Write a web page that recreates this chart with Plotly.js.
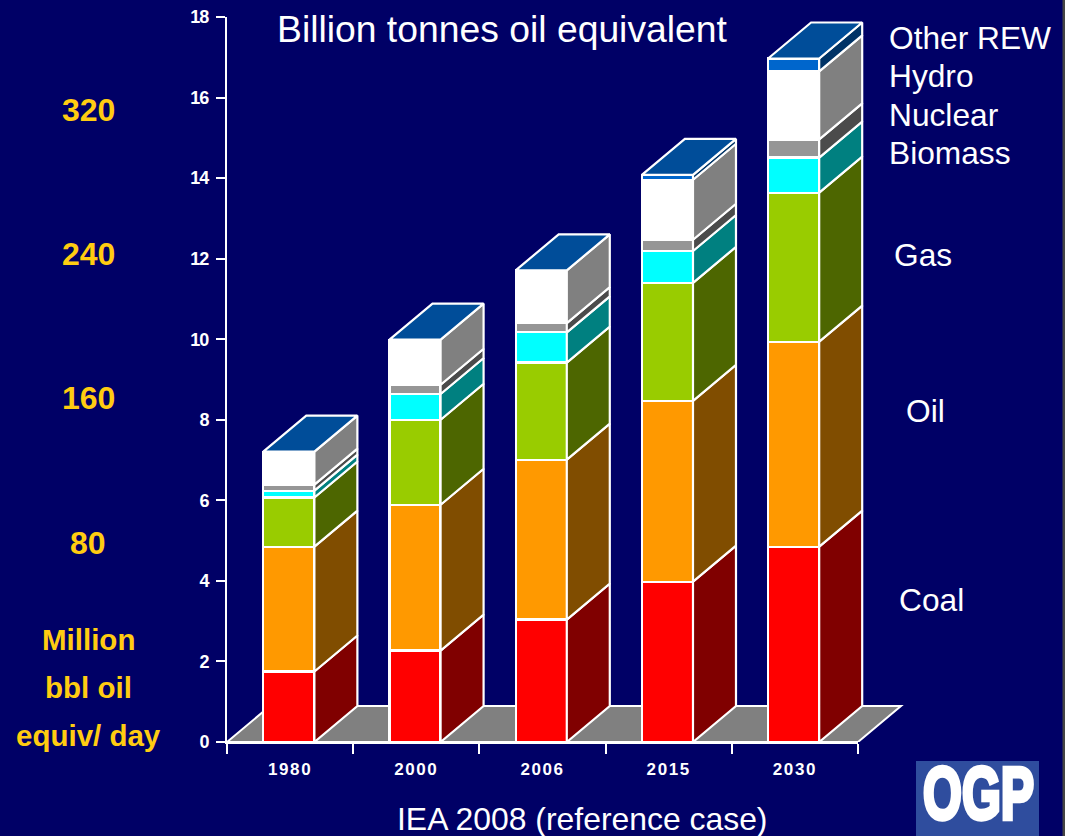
<!DOCTYPE html>
<html>
<head>
<meta charset="utf-8">
<script src="https://cdn.plot.ly/plotly-3.0.1.min.js"></script>
<style>
  html, body { margin: 0; padding: 0; background: #ffffff; overflow: hidden; }
  #chart { width: 1070px; height: 836px; }
  .xtick text { letter-spacing: 1.6px; }
  .ytick text { letter-spacing: -1px; }
  .annotation[data-index="0"] text {
    stroke: #ffffff; stroke-width: 3px;
    transform-box: fill-box; transform-origin: center; transform: scaleY(1.5);
  }
</style>
</head>
<body>
<div id="chart"></div>
<script>
// World primary energy demand by source, billion tonnes oil equivalent
const years   = ['1980', '2000', '2006', '2015', '2030'];
const coal    = [1.75, 2.27, 3.04, 3.98, 4.85];
const oil     = [3.10, 3.62, 3.97, 4.49, 5.09];
const gas     = [1.22, 2.11, 2.41, 2.93, 3.70];
const biomass = [0.17, 0.64, 0.75, 0.79, 0.87];
const nuclear = [0.15, 0.23, 0.23, 0.28, 0.45];
const hydro   = [0.82, 1.12, 1.31, 1.49, 1.69];
const other   = [0.00, 0.00, 0.00, 0.12, 0.32];

const seriesNames = ['Coal', 'Oil', 'Gas', 'Biomass', 'Nuclear', 'Hydro', 'Other REW'];
const seriesData  = [coal, oil, gas, biomass, nuclear, hydro, other];
const frontColors = ['#ff0000', '#ff9900', '#99cc00', '#00ffff', '#969696', '#ffffff', '#0066cc'];
const sideColors  = ['#800000', '#804d00', '#4d6600', '#008080', '#4b4b4b', '#808080', '#003366'];
const topColor    = '#004d99';
const floorColor  = '#808080';
const background  = '#000066';
const gold        = '#ffcc11';
const yTicks      = [0, 2, 4, 6, 8, 10, 12, 14, 16, 18];

// Plot frame in page pixels
const W = 1070, H = 836;
const left = 227, axisRight = 858, wideRight = 905, top_ = 17, bottom = 742;
const pxPerCat = (axisRight - left) / years.length;

// Bar box proportions in axis units
const barWidth = 0.405;
const depthX = 43 / pxPerCat;
const depthY = 36 / ((bottom - top_) / 18);
const x2Start = -0.49;

const px = x => (x - left) / (wideRight - left);
const py = y => (bottom - y) / (bottom - top_);

const traces = [];

// Category axis: carries the year labels and the boundary ticks
traces.push({
  type: 'scatter', mode: 'markers', x: years, y: years.map(() => 0),
  xaxis: 'x', yaxis: 'y', marker: { size: 1, opacity: 0 },
  hoverinfo: 'skip', showlegend: false
});

// Front faces
seriesData.forEach((vals, s) => {
  traces.push({
    type: 'bar', name: seriesNames[s], x: years.map((_, i) => i), y: vals,
    xaxis: 'x2', yaxis: 'y', width: barWidth,
    marker: { color: frontColors[s], line: { color: '#ffffff', width: 2.2 } },
    hoverinfo: 'skip', showlegend: false
  });
});

// Side faces, one polygon per non-empty segment, sheared back from the front
const running = years.map(() => 0);
seriesData.forEach((vals, s) => {
  const xs = [], ys = [];
  vals.forEach((v, i) => {
    const base = running[i], head = base + v;
    running[i] = head;
    if (v <= 0) return;
    const xf = i + barWidth / 2, xb = xf + depthX;
    xs.push(xf, xb, xb, xf, xf, null);
    ys.push(base, base + depthY, head + depthY, head, base, null);
  });
  traces.push({
    type: 'scatter', mode: 'lines', x: xs, y: ys, xaxis: 'x2', yaxis: 'y',
    fill: 'toself', fillcolor: sideColors[s],
    line: { color: '#ffffff', width: 2.2 },
    hoverinfo: 'skip', showlegend: false
  });
});

// Top faces
const topX = [], topY = [];
running.forEach((t, i) => {
  const a = i - barWidth / 2, b = i + barWidth / 2;
  topX.push(a, a + depthX, b + depthX, b, a, null);
  topY.push(t, t + depthY, t + depthY, t, t, null);
});
traces.push({
  type: 'scatter', mode: 'lines', x: topX, y: topY, xaxis: 'x2', yaxis: 'y',
  fill: 'toself', fillcolor: topColor, line: { color: '#ffffff', width: 2.2 },
  hoverinfo: 'skip', showlegend: false
});

const x2End = x2Start + (wideRight - left) / pxPerCat;
const floorLeft = x2Start, floorRight = x2Start + years.length;

const textFont = { family: 'Liberation Sans, Arial, sans-serif', color: '#ffffff' };
const note = (text, x, y, size, opts) => Object.assign({
  text, xref: 'paper', yref: 'paper', x: px(x), y: py(y),
  showarrow: false, xanchor: 'left', yanchor: 'middle',
  font: Object.assign({}, textFont, { size }), borderpad: 0, borderwidth: 0
}, opts || {});
const goldNote = (text, y, size) => note(text, 88, y, size, {
  xanchor: 'center',
  font: { family: 'Liberation Sans, Arial, sans-serif', color: gold, size, weight: 700 }
});

const annotations = [
  // Badge lettering, index 0 gets the heavy condensed treatment in the stylesheet
  note('OGP', 978.5, 793, 50, {
    xanchor: 'center',
    font: { family: 'Liberation Sans, Arial, sans-serif', color: '#ffffff', size: 50, weight: 700 }
  }),
  note('Billion tonnes oil equivalent', 277, 29, 37.3),
  note('IEA 2008 (reference case)', 397, 819, 31.9),
  note('Other REW', 889, 38, 31.7),
  note('Hydro', 889, 76, 31.7),
  note('Nuclear', 889, 115, 31.7),
  note('Biomass', 889, 153, 31.7),
  note('Gas', 894, 255, 31.7),
  note('Oil', 906, 411, 31.7),
  note('Coal', 899, 600, 31.7),
  goldNote('320', 110, 32), goldNote('240', 254, 32), goldNote('160', 398, 32), goldNote('80', 543, 32),
  goldNote('Million', 639, 29.5), goldNote('bbl oil', 687, 29.5), goldNote('equiv/ day', 735, 29.5)
];

const paperRect = (x0, y0, x1, y1, color) => ({
  type: 'rect', xref: 'paper', yref: 'paper', layer: 'above',
  x0: px(x0), x1: px(x1), y0: py(y0), y1: py(y1),
  fillcolor: color, line: { width: 0 }
});

const layout = {
  width: W, height: H,
  margin: { l: left, r: W - wideRight, t: top_, b: H - bottom, pad: 0 },
  paper_bgcolor: background, plot_bgcolor: 'rgba(0,0,0,0)',
  barmode: 'stack', showlegend: false,
  xaxis: {
    type: 'category', categoryorder: 'array', categoryarray: years,
    domain: [0, (axisRight - left) / (wideRight - left)],
    range: [-0.5, 4.5], anchor: 'y', tickson: 'boundaries',
    showline: true, linecolor: '#ffffff', linewidth: 2,
    ticks: 'outside', ticklen: 10, tickwidth: 2, tickcolor: '#ffffff',
    showgrid: false, zeroline: false, ticklabelstandoff: 11,
    tickfont: { family: 'Liberation Sans, Arial, sans-serif', color: '#ffffff', size: 17, weight: 700 }
  },
  xaxis2: {
    type: 'linear', domain: [0, 1], range: [x2Start, x2End], anchor: 'y',
    visible: false, showgrid: false, zeroline: false
  },
  yaxis: {
    range: [0, 18], domain: [0, 1], anchor: 'x', tickmode: 'array', tickvals: yTicks,
    showline: true, linecolor: '#ffffff', linewidth: 2,
    ticks: 'outside', ticklen: 9, tickwidth: 2, tickcolor: '#ffffff',
    showgrid: false, zeroline: false, ticklabelstandoff: 4,
    tickfont: { family: 'Liberation Sans, Arial, sans-serif', color: '#ffffff', size: 18, weight: 700 }
  },
  shapes: [
    // Floor slab under the bars
    {
      type: 'path', xref: 'x2', yref: 'y', layer: 'below',
      path: `M ${floorLeft} 0 L ${floorLeft + depthX} ${depthY} L ${floorRight + depthX} ${depthY} L ${floorRight} 0 Z`,
      fillcolor: floorColor, line: { color: '#ffffff', width: 2 }
    },
    // Badge panel and slide edge
    paperRect(916, 761, 1039, 836, '#2f4d9e'),
    paperRect(1062.5, 0, 1065, 836, '#444444'),
    paperRect(1065, 0, 1070, 836, '#ffffff')
  ],
  annotations
};

Plotly.newPlot('chart', traces, layout, { displayModeBar: false, staticPlot: true });
</script>
</body>
</html>
